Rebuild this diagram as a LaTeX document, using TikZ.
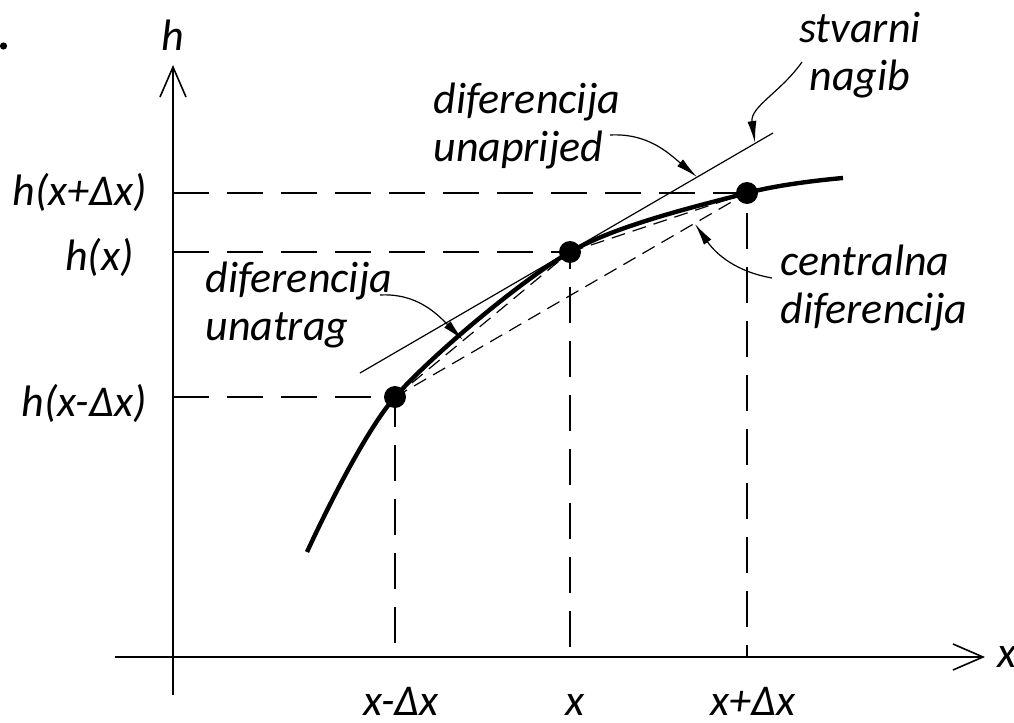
\documentclass[tikz,border=0pt]{standalone}
\usepackage{fontspec}
\setmainfont{Carlito}
\usetikzlibrary{arrows.meta}

\tikzset{
  lbl/.style={font=\fontsize{22}{24}\selectfont\itshape, inner sep=0pt},
  axis/.style={line width=0.8pt, -{Straight Barb[length=15pt,width=13pt]}},
  guide/.style={line width=0.7pt, dash pattern=on 18pt off 9pt},
  chord/.style={line width=0.6pt, dash pattern=on 7pt off 4pt},
  leader/.style={line width=0.6pt, -{Latex[length=11pt,width=4.5pt]}},
  pt/.style={circle, fill=black, inner sep=0pt, minimum size=11pt}
}

\begin{document}
\begin{tikzpicture}[x=0.5pt,y=-0.5pt]
	\useasboundingbox (0,0) rectangle (1014,723);

	% Punkt oben links
	\fill (3.5,46) circle (1.8pt);

	% Achsen
	\coordinate (o) at (173,657);
	\draw[axis] (173,695) -- (173,65) node[lbl, above=7pt] (hlab) {h};
	\draw[axis] (115,657) -- (985,657) node[lbl, right=6pt] (xlab) {x};

	% Stuetzpunkte
	\coordinate (p1) at (395,397);
	\coordinate (p2) at (570,252);
	\coordinate (p3) at (747,193);

	% Hilfslinien
	\draw[guide] (p1 -| o) -- (p1) -- (p1 |- o);
	\draw[guide] (p2 -| o) -- (p2) -- (p2 |- o);
	\draw[guide] (p3 -| o) -- (p3) -- (p3 |- o);

	% Achsenbeschriftung
	\node[lbl, anchor=east] (hm) at (147,403) {h(x-Δx)};
	\node[lbl, anchor=east] (h0) at (134,257) {h(x)};
	\node[lbl, anchor=east] (hp) at (147,192) {h(x+Δx)};
	\node[lbl, anchor=base] (xm) at (401,715) {x-Δx};
	\node[lbl, anchor=base] (x0) at (575,715) {x};
	\node[lbl, anchor=base] (xp) at (753,715) {x+Δx};

	% Sehnen
	\draw[chord] (p1) -- (p2);
	\draw[chord] (p2) -- (p3);
	\draw[chord] (p1) -- (p3);

	% Tangente
	\coordinate (t1) at (360,373);
	\coordinate (t2) at (773,133);
	\draw[line width=0.6pt] (t1) -- (t2);

	% Funktion
	\draw[line width=2.2pt] plot[smooth] coordinates {(307,552) (p1) (p2) (p3) (843,178)};
	\node[pt] (d1) at (p1) {};
	\node[pt] (d2) at (p2) {};
	\node[pt] (d3) at (p3) {};

	% Beschriftungen
	\node[lbl, align=center, anchor=north] (stv) at (860,12) {stvarni\\nagib};
	\node[lbl, align=left, anchor=north west] (unapr) at (433,83) {diferencija\\unaprijed};
	\node[lbl, align=left, anchor=north west] (unatr) at (205,262) {diferencija\\unatrag};
	\node[lbl, align=left, anchor=north west] (centr) at (780,245) {centralna\\diferencija};

	% Pfeile
	\coordinate (stvS) at (802,62);
	\coordinate (stvE) at (755,143);
	\draw[leader] (stvS) to[out=-125, in=98] (stvE);
	\coordinate (unaprS) at (610,135);
	\coordinate (unaprE) at (697,177);
	\draw[leader] (unaprS) to[out=3, in=140] (unaprE);
	\coordinate (unatrS) at (380,295);
	\coordinate (unatrE) at (463,340);
	\draw[leader] (unatrS) to[out=3, in=135] (unatrE);
	\coordinate (centrS) at (772,278);
	\coordinate (centrE) at (695,224);
	\draw[leader] (centrS) to[out=170, in=-55] (centrE);

\end{tikzpicture}
\end{document}
